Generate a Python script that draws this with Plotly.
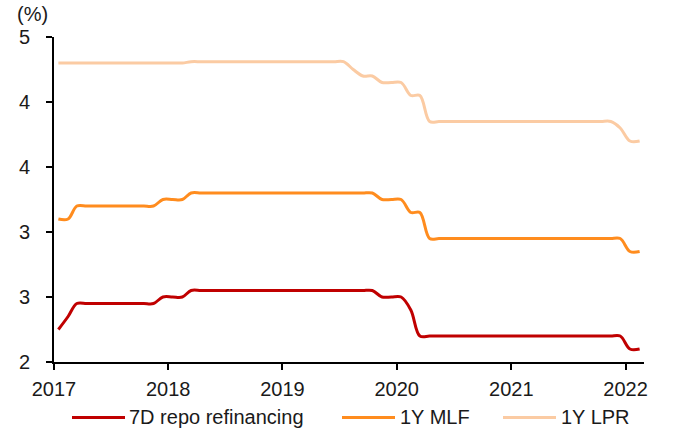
import pandas as pd
import plotly.graph_objects as go

# ---- data (month-end policy rates, %) ----
months = pd.date_range("2017-01-01", "2022-02-01", freq="MS").strftime("%Y-%m").tolist()

repo_7d = ([2.25, 2.35] + [2.45] * 9 + [2.50] +              # 2017
           [2.50, 2.50] + [2.55] * 10 +                       # 2018
           [2.55] * 10 + [2.50, 2.50] +                       # 2019
           [2.50, 2.40] + [2.20] * 10 +                       # 2020
           [2.20] * 12 +                                      # 2021
           [2.10, 2.10])                                      # 2022

mlf_1y = ([3.10, 3.10] + [3.20] * 9 + [3.25] +
          [3.25, 3.25] + [3.30] * 10 +
          [3.30] * 10 + [3.25, 3.25] +
          [3.25, 3.15, 3.15] + [2.95] * 9 +
          [2.95] * 12 +
          [2.85, 2.85])

lpr_1y = ([4.30] * 12 +
          [4.30, 4.30] + [4.31] * 10 +
          [4.31] * 7 + [4.25, 4.20, 4.20, 4.15, 4.15] +
          [4.15, 4.05, 4.05] + [3.85] * 9 +
          [3.85] * 11 + [3.80] +
          [3.70, 3.70])

series_names = ["7D repo refinancing", "1Y MLF", "1Y LPR"]
series_colors = ["#C00000", "#FF8C1E", "#FBCBA3"]

y_tickvals = [2.0, 2.5, 3.0, 3.5, 4.0, 4.5]
y_ticktext = ["2", "3", "3", "4", "4", "5"]
x_years = ["2017", "2018", "2019", "2020", "2021", "2022"]

# ---- figure ----
x = pd.to_datetime(months) + pd.Timedelta(days=14)   # centre of each month

fig = go.Figure()
for name, vals, col in zip(series_names, [repo_7d, mlf_1y, lpr_1y], series_colors):
    fig.add_trace(go.Scatter(
        x=x, y=vals, name=name, mode="lines",
        line=dict(color=col, width=3, shape="spline", smoothing=1.0),
        showlegend=False,
    ))

FONT = "Liberation Sans, Arial, sans-serif"
W, H = 673, 430
# plot area in page pixels: x 54..644, y 37..362
L, T = 54, 37
R = W - 644
B = H - 362
pw, ph = W - L - R, H - T - B

fig.update_layout(
    width=W, height=H,
    margin=dict(l=L, r=R, t=T, b=B, pad=0),
    paper_bgcolor="white", plot_bgcolor="white",
    font=dict(family=FONT, size=20, color="#1a1a1a"),
)

fig.update_xaxes(
    range=["2017-01-01", "2022-03-01"],
    tickvals=[f"{y}-01-01" for y in x_years], ticktext=x_years,
    showgrid=False, zeroline=False,
    showline=True, linecolor="black", linewidth=2,
    ticks="outside", ticklen=6, tickwidth=2, tickcolor="black",
    ticklabelstandoff=2,
    tickfont=dict(size=20, family=FONT, color="#1a1a1a"),
)
fig.update_yaxes(
    range=[2.0, 4.5],
    tickvals=y_tickvals, ticktext=y_ticktext,
    showgrid=False, zeroline=False,
    showline=True, linecolor="black", linewidth=2,
    ticks="outside", ticklen=6, tickwidth=2, tickcolor="black",
    ticklabelstandoff=12,
    tickfont=dict(size=20, family=FONT, color="#1a1a1a"),
)

def px_x(p):   # page pixel -> paper
    return (p - L) / pw

def px_y(p):
    return (H - B - p) / ph

# unit label
fig.add_annotation(x=px_x(32), y=px_y(14), xref="paper", yref="paper",
                   text="(%)", showarrow=False, xanchor="center", yanchor="middle",
                   borderpad=0,
                   font=dict(size=20, family=FONT, color="#1a1a1a"))

# legend (drawn manually to match long swatches)
leg_y = 417.5
leg_items = [(72, 125, 128), (342, 395, 399), (503, 556, 560)]
for (x0, x1, xt), name, col in zip(leg_items, series_names, series_colors):
    fig.add_shape(type="line", xref="paper", yref="paper",
                  x0=px_x(x0), x1=px_x(x1), y0=px_y(leg_y), y1=px_y(leg_y),
                  line=dict(color=col, width=3))
    fig.add_annotation(x=px_x(xt), y=px_y(leg_y - 1), xref="paper", yref="paper",
                       text=name, showarrow=False, xanchor="left", yanchor="middle",
                       borderpad=0,
                       font=dict(size=20, family=FONT, color="#1a1a1a"))

# remove the default page margin so the 673x430 figure fills the window
fig.write_html("out.html",
               config={"displayModeBar": False, "staticPlot": True},
               post_script="document.body.style.margin='0';document.body.style.overflow='hidden';")
